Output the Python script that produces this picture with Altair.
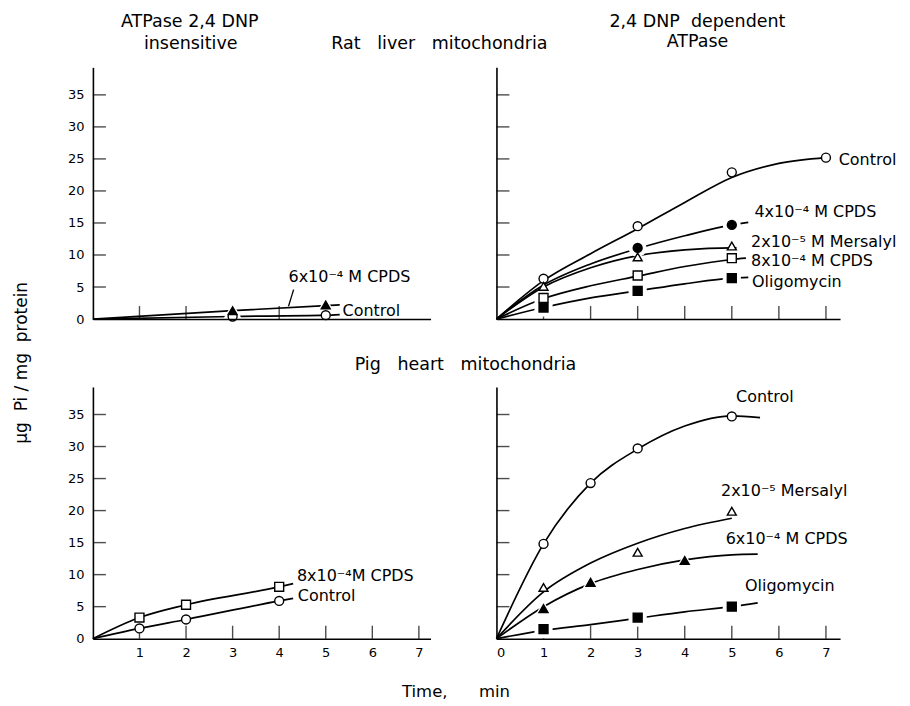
import altair as alt
import pandas as pd

FONT = "DejaVu Sans"
YMAX = 39.3
SP = "\u00a0"

# ---------------- axis values ----------------
x_ticks_full = [1, 2, 3, 4, 5, 6, 7]
x_ticks_tl = [1, 2, 3, 4, 5]
y_ticks = [5, 10, 15, 20, 25, 30, 35]
y_label_values = [0, 5, 10, 15, 20, 25, 30, 35]
x_labels_bl = [1, 2, 3, 4, 5, 6, 7]
x_labels_br = [0, 1, 2, 3, 4, 5, 6, 7]

# ---------------- series ----------------
series_keys = ["Control", "CPDS 6e-4", "CPDS 4e-4", "Mersalyl", "CPDS 8e-4", "Oligomycin"]
series_shapes = ["circle", "triangle-up", "circle", "triangle-up", "square", "square"]
series_fills = ["white", "black", "black", "white", "white", "black"]
filled_series = ["CPDS 6e-4", "CPDS 4e-4", "Oligomycin"]

# ---------- Rat liver, ATPase 2,4 DNP insensitive (TL) ----------
tl_ctrl_curve_t = [0, 3, 5, 5.3]
tl_ctrl_curve_v = [0, 0.4, 0.6, 0.7]
tl_cpds6_curve_t = [0, 3, 5, 5.3]
tl_cpds6_curve_v = [0, 1.3, 2.1, 2.2]
tl_ctrl_pts_t = [3, 5]
tl_ctrl_pts_v = [0.4, 0.6]
tl_cpds6_pts_t = [3, 5]
tl_cpds6_pts_v = [1.3, 2.2]

# ---------- Rat liver, 2,4 DNP dependent ATPase (TR) ----------
tr_ctrl_curve_t = [0, 1, 2, 3, 4, 5, 6, 7]
tr_ctrl_curve_v = [0, 6.0, 10.2, 14.1, 18.2, 22.1, 24.3, 25.2]
tr_cpds4_curve_t = [0, 1, 2, 3, 4, 5, 5.35]
tr_cpds4_curve_v = [0, 5.3, 8.6, 11.0, 13.0, 14.7, 15.1]
tr_mers_curve_t = [0, 1, 2, 3, 4, 5, 5.1]
tr_mers_curve_v = [0, 5.0, 8.0, 9.9, 10.8, 11.1, 11.1]
tr_cpds8_curve_t = [0, 1, 2, 3, 4, 5, 5.3]
tr_cpds8_curve_v = [0, 3.2, 5.2, 6.7, 8.2, 9.3, 9.5]
tr_oligo_curve_t = [0, 1, 2, 3, 4, 5, 5.35]
tr_oligo_curve_v = [0, 1.8, 3.3, 4.4, 5.5, 6.4, 6.5]
tr_ctrl_pts_t = [1, 3, 5, 7]
tr_ctrl_pts_v = [6.3, 14.5, 22.9, 25.2]
tr_cpds4_pts_t = [3, 5]
tr_cpds4_pts_v = [11.1, 14.7]
tr_mers_pts_t = [1, 3, 5]
tr_mers_pts_v = [5.1, 9.7, 11.4]
tr_cpds8_pts_t = [1, 3, 5]
tr_cpds8_pts_v = [3.3, 6.8, 9.5]
tr_oligo_pts_t = [1, 3, 5]
tr_oligo_pts_v = [1.8, 4.4, 6.4]

# ---------- Pig heart, insensitive (BL) ----------
bl_cpds8_curve_t = [0, 1, 2, 4, 4.3]
bl_cpds8_curve_v = [0, 3.3, 5.3, 8.1, 8.6]
bl_ctrl_curve_t = [0, 1, 2, 4, 4.3]
bl_ctrl_curve_v = [0, 1.6, 3.0, 5.9, 6.3]
bl_cpds8_pts_t = [1, 2, 4]
bl_cpds8_pts_v = [3.3, 5.3, 8.1]
bl_ctrl_pts_t = [1, 2, 4]
bl_ctrl_pts_v = [1.6, 3.0, 5.9]

# ---------- Pig heart, dependent (BR) ----------
br_ctrl_curve_t = [0, 1, 2, 3, 4, 5, 5.6]
br_ctrl_curve_v = [0, 14.8, 24.3, 29.6, 33.2, 34.8, 34.5]
br_mers_curve_t = [0, 1, 2, 3, 4, 5]
br_mers_curve_v = [0, 7.3, 11.8, 14.9, 17.2, 18.8]
br_cpds6_curve_t = [0, 1, 2, 3, 4, 5, 5.55]
br_cpds6_curve_v = [0, 5.0, 8.6, 10.8, 12.3, 13.1, 13.2]
br_oligo_curve_t = [0, 1, 2, 3, 4, 5, 5.55]
br_oligo_curve_v = [0, 1.3, 2.2, 3.2, 4.2, 5.0, 5.6]
br_ctrl_pts_t = [1, 2, 3, 5]
br_ctrl_pts_v = [14.8, 24.3, 29.7, 34.7]
br_mers_pts_t = [1, 3, 5]
br_mers_pts_v = [8.0, 13.5, 19.9]
br_cpds6_pts_t = [1, 2, 4]
br_cpds6_pts_v = [4.7, 8.8, 12.2]
br_oligo_pts_t = [1, 3, 5]
br_oligo_pts_v = [1.5, 3.3, 5.0]

# ---------- annotation texts (anchored in data units) ----------
tl_label_text = ["6x10⁻⁴ M CPDS", "Control"]
tl_label_t = [4.2, 5.36]
tl_label_v = [6.5, 1.2]
tl_leader_t = [4.31]
tl_leader_v = [4.6]
tl_leader_t2 = [4.2]
tl_leader_v2 = [2.0]
tl_heading_text = ["ATPase 2,4 DNP", "insensitive",
                   "Rat" + SP * 3 + "liver" + SP * 3 + "mitochondria"]
tl_heading_t = [2.08, 2.1, 7.44]
tl_heading_v = [46.3, 43.0, 43.0]

tr_label_text = ["Control", "4x10⁻⁴ M CPDS", "2x10⁻⁵ M Mersalyl", "8x10⁻⁴ M CPDS", "Oligomycin"]
tr_label_t = [7.27, 5.48, 5.41, 5.41, 5.43]
tr_label_v = [24.9, 16.7, 12.0, 9.0, 5.8]
tr_heading_text = ["2,4 DNP" + SP * 2 + "dependent", "ATPase"]
tr_heading_t = [4.27, 4.27]
tr_heading_v = [46.3, 43.2]

bl_label_text = ["8x10⁻⁴M CPDS", "Control"]
bl_label_t = [4.38, 4.4]
bl_label_v = [9.8, 6.6]
bl_heading_text = ["Pig" + SP * 3 + "heart" + SP * 3 + "mitochondria"]
bl_heading_t = [8.0]
bl_heading_v = [42.7]

br_label_text = ["Control", "2x10⁻⁵ Mersalyl", "6x10⁻⁴ M CPDS", "Oligomycin"]
br_label_t = [5.09, 4.77, 4.87, 5.28]
br_label_v = [37.7, 23.1, 15.5, 8.3]

x_title = "Time," + SP * 6 + "min"
y_title = "μg" + SP * 2 + "Pi" + SP + "/" + SP + "mg" + SP * 2 + "protein"


def table(series_list):
    rows = []
    for name, ts, vs in series_list:
        for t, v in zip(ts, vs):
            rows.append({"series": name, "t": t, "v": v})
    return pd.DataFrame(rows)


def texts(text, ts, vs):
    return pd.DataFrame({"text": text, "t": ts, "v": vs})


shape_scale = alt.Scale(domain=series_keys, range=series_shapes)
fill_scale = alt.Scale(domain=series_keys, range=series_fills)


def axis_x(label_values):
    if label_values:
        return alt.Axis(values=label_values, ticks=False, grid=False, title=None,
                        labelFont=FONT, labelFontSize=13, labelColor="black",
                        labelPadding=8, domainColor="black", domainWidth=1.6, zindex=1)
    return alt.Axis(labels=False, ticks=False, grid=False, title=None,
                    domainColor="black", domainWidth=1.6, zindex=1)


def axis_y(show_labels):
    if show_labels:
        return alt.Axis(values=y_label_values, ticks=False, grid=False, title=None,
                        labelFont=FONT, labelFontSize=13, labelColor="black",
                        labelPadding=9, domainColor="black", domainWidth=1.6, zindex=1)
    return alt.Axis(labels=False, ticks=False, grid=False, title=None,
                    domainColor="black", domainWidth=1.6, zindex=1)


def panel(width, xmax, curves, points, labels, headings, x_tick_vals, x_label_vals,
          show_y_labels, leaders=None):
    xs = alt.Scale(domain=[0, xmax], nice=False, zero=True)
    ys = alt.Scale(domain=[0, YMAX], nice=False, zero=True)
    ax = axis_x(x_label_vals)
    ay = axis_y(show_y_labels)
    X = alt.X("t:Q", scale=xs, axis=ax)
    Y = alt.Y("v:Q", scale=ys, axis=ay)

    xt = alt.Chart(pd.DataFrame({"t": x_tick_vals})).mark_tick(
        orient="vertical", size=13, thickness=1.4, yOffset=-6.5, color="black"
    ).encode(x=X, y=alt.YDatum(0, type="quantitative", scale=ys, axis=ay))
    yt = alt.Chart(pd.DataFrame({"v": y_ticks})).mark_tick(
        orient="horizontal", size=13, thickness=1.4, xOffset=6.5, color="black"
    ).encode(y=Y, x=alt.XDatum(0, type="quantitative", scale=xs, axis=ax))

    lines = alt.Chart(curves).mark_line(
        color="black", strokeWidth=1.7, interpolate="monotone"
    ).encode(x=X, y=Y, detail="series:N")

    halo_df = points[points["series"].isin(filled_series)]
    layers = [xt, yt, lines]
    if leaders is not None:
        layers.append(alt.Chart(leaders).mark_rule(color="black", strokeWidth=1.3).encode(
            x=X, y=Y, x2="t2:Q", y2="v2:Q"))
    if len(halo_df):
        layers.append(alt.Chart(halo_df).mark_point(
            filled=True, fill="white", size=330, opacity=1
        ).encode(x=X, y=Y, shape=alt.Shape("series:N", scale=shape_scale, legend=None)))
    layers.append(alt.Chart(points).mark_point(
        filled=True, stroke="black", strokeWidth=1.4, size=80, opacity=1
    ).encode(
        x=X, y=Y,
        shape=alt.Shape("series:N", scale=shape_scale, legend=None),
        fill=alt.Fill("series:N", scale=fill_scale, legend=None),
    ))
    layers.append(alt.Chart(labels).mark_text(
        align="left", baseline="middle", font=FONT, fontSize=16, color="black"
    ).encode(x=X, y=Y, text="text:N"))
    if headings is not None:
        layers.append(alt.Chart(headings).mark_text(
            align="center", baseline="middle", font=FONT, fontSize=17.5, color="black"
        ).encode(x=X, y=Y, text="text:N"))

    return alt.layer(*layers).properties(width=width, height=252)


tl_curves = table([("Control", tl_ctrl_curve_t, tl_ctrl_curve_v),
                   ("CPDS 6e-4", tl_cpds6_curve_t, tl_cpds6_curve_v)])
tl_points = table([("Control", tl_ctrl_pts_t, tl_ctrl_pts_v),
                   ("CPDS 6e-4", tl_cpds6_pts_t, tl_cpds6_pts_v)])
tl_leaders = pd.DataFrame({"t": tl_leader_t, "v": tl_leader_v, "t2": tl_leader_t2, "v2": tl_leader_v2})

tr_curves = table([("Control", tr_ctrl_curve_t, tr_ctrl_curve_v),
                   ("CPDS 4e-4", tr_cpds4_curve_t, tr_cpds4_curve_v),
                   ("Mersalyl", tr_mers_curve_t, tr_mers_curve_v),
                   ("CPDS 8e-4", tr_cpds8_curve_t, tr_cpds8_curve_v),
                   ("Oligomycin", tr_oligo_curve_t, tr_oligo_curve_v)])
tr_points = table([("Control", tr_ctrl_pts_t, tr_ctrl_pts_v),
                   ("CPDS 4e-4", tr_cpds4_pts_t, tr_cpds4_pts_v),
                   ("Mersalyl", tr_mers_pts_t, tr_mers_pts_v),
                   ("CPDS 8e-4", tr_cpds8_pts_t, tr_cpds8_pts_v),
                   ("Oligomycin", tr_oligo_pts_t, tr_oligo_pts_v)])

bl_curves = table([("CPDS 8e-4", bl_cpds8_curve_t, bl_cpds8_curve_v),
                   ("Control", bl_ctrl_curve_t, bl_ctrl_curve_v)])
bl_points = table([("CPDS 8e-4", bl_cpds8_pts_t, bl_cpds8_pts_v),
                   ("Control", bl_ctrl_pts_t, bl_ctrl_pts_v)])

br_curves = table([("Control", br_ctrl_curve_t, br_ctrl_curve_v),
                   ("Mersalyl", br_mers_curve_t, br_mers_curve_v),
                   ("CPDS 6e-4", br_cpds6_curve_t, br_cpds6_curve_v),
                   ("Oligomycin", br_oligo_curve_t, br_oligo_curve_v)])
br_points = table([("Control", br_ctrl_pts_t, br_ctrl_pts_v),
                   ("Mersalyl", br_mers_pts_t, br_mers_pts_v),
                   ("CPDS 6e-4", br_cpds6_pts_t, br_cpds6_pts_v),
                   ("Oligomycin", br_oligo_pts_t, br_oligo_pts_v)])

TL = panel(338, 7.25, tl_curves, tl_points,
           texts(tl_label_text, tl_label_t, tl_label_v),
           texts(tl_heading_text, tl_heading_t, tl_heading_v),
           x_ticks_tl, [], True, leaders=tl_leaders)
TR = panel(344, 7.3, tr_curves, tr_points,
           texts(tr_label_text, tr_label_t, tr_label_v),
           texts(tr_heading_text, tr_heading_t, tr_heading_v),
           x_ticks_full, [], False)
BL = panel(338, 7.25, bl_curves, bl_points,
           texts(bl_label_text, bl_label_t, bl_label_v),
           texts(bl_heading_text, bl_heading_t, bl_heading_v),
           x_ticks_full, x_labels_bl, True)
BR = panel(344, 7.3, br_curves, br_points,
           texts(br_label_text, br_label_t, br_label_v), None,
           x_ticks_full, x_labels_br, False)

grid = alt.concat(TL, TR, BL, BR, columns=2, bounds="flush",
                  spacing={"row": 68, "column": 66}).properties(
    title=alt.Title(x_title, orient="bottom", anchor="middle", frame="bounds", dx=-26,
                    offset=24, font=FONT, fontSize=16.5, fontWeight="normal", color="black")
)

chart = alt.vconcat(grid).properties(
    title=alt.Title(y_title, orient="left", anchor="middle", frame="bounds",
                    dx=-6, offset=36, font=FONT, fontSize=17, fontWeight="normal", color="black"),
    background="white",
).configure_view(stroke=None)

chart.save("out.html", embed_options={"renderer": "svg", "actions": False})
